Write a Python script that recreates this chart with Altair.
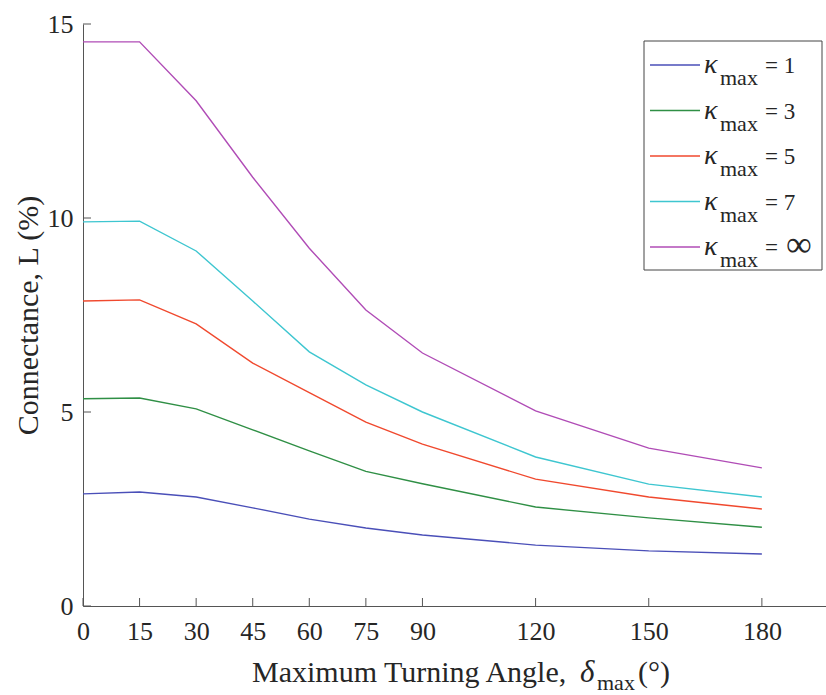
import altair as alt
import pandas as pd

# ---- data ----
angles = [0, 15, 30, 45, 60, 75, 90, 120, 150, 180]
k1 = [2.89, 2.94, 2.81, 2.53, 2.24, 2.01, 1.83, 1.57, 1.42, 1.34]
k3 = [5.34, 5.36, 5.08, 4.54, 4.00, 3.47, 3.15, 2.55, 2.27, 2.03]
k5 = [7.86, 7.89, 7.27, 6.26, 5.50, 4.74, 4.17, 3.27, 2.81, 2.50]
k7 = [9.90, 9.92, 9.15, 7.86, 6.55, 5.70, 5.00, 3.84, 3.14, 2.81]
kinf = [14.54, 14.54, 13.02, 11.05, 9.22, 7.63, 6.52, 5.03, 4.07, 3.56]

series = ["1", "3", "5", "7", "∞"]
colors = ["#4a4fb8", "#2f8f45", "#f0492e", "#3ec6d0", "#b04cb6"]
x_ticks = [0, 15, 30, 45, 60, 75, 90, 120, 150, 180]
y_ticks = [0, 5, 10, 15]

FONT = "Liberation Serif"
TXT = "#262626"
AX = "#555555"
W, H = 743, 582

rows = []
for s, vals in zip(series, [k1, k3, k5, k7, kinf]):
    for a, v in zip(angles, vals):
        rows.append({"angle": a, "L": v, "series": s})
df = pd.DataFrame(rows)

xscale = alt.Scale(domain=[0, 197], nice=False, zero=False)
yscale = alt.Scale(domain=[0, 15], nice=False)
cscale = alt.Scale(domain=series, range=colors)

lines = alt.Chart(df).mark_line(strokeWidth=1.4).encode(
    x=alt.X("angle:Q", scale=xscale,
            axis=alt.Axis(values=x_ticks, ticks=False, labelPadding=12, labelFontSize=26,
                          labelFont=FONT, labelColor=TXT, domainColor=AX, grid=False,
                          title=None, labelFlush=False)),
    y=alt.Y("L:Q", scale=yscale,
            axis=alt.Axis(values=y_ticks, ticks=False, labelPadding=10, labelFontSize=26,
                          labelFont=FONT, labelColor=TXT, domainColor=AX, grid=False,
                          title="Connectance, L (%)", titleFont=FONT, titleFontSize=30,
                          titleFontWeight="normal", titleColor=TXT, titlePadding=4,
                          labelFlush=False)),
    color=alt.Color("series:N", scale=cscale, legend=None),
    detail="series:N",
)

# inward ticks
xt = alt.Chart(pd.DataFrame({"t": x_ticks})).mark_rule(color=AX, strokeWidth=1).encode(
    x=alt.X("t:Q", scale=xscale), y=alt.value(H), y2=alt.value(H - 8))
yt = alt.Chart(pd.DataFrame({"t": y_ticks})).mark_rule(color=AX, strokeWidth=1).encode(
    y=alt.Y("t:Q", scale=yscale, axis=None), x=alt.value(0), x2=alt.value(8))

# x-axis title built from pieces (subscript)
one = pd.DataFrame({"a": [0]})
xt1 = alt.Chart(one).mark_text(text="Maximum Turning Angle,", font=FONT, fontSize=30,
                               color=TXT, align="left", baseline="alphabetic").encode(
    x=alt.value(169), y=alt.value(658))
xt2 = alt.Chart(one).mark_text(text="δ", font=FONT, fontSize=31, fontStyle="italic",
                               color=TXT, align="left", baseline="alphabetic").encode(
    x=alt.value(497), y=alt.value(658))
xt3 = alt.Chart(one).mark_text(text="max", font=FONT, fontSize=22,
                               color=TXT, align="left", baseline="alphabetic").encode(
    x=alt.value(514), y=alt.value(666))
xt4 = alt.Chart(one).mark_text(text="(°)", font=FONT, fontSize=30,
                               color=TXT, align="left", baseline="alphabetic").encode(
    x=alt.value(555), y=alt.value(658))

# legend
leg = pd.DataFrame({"series": series, "row": list(range(5)),
                    "eq": ["= 1", "= 3", "= 5", "= 7", "="]})
lscale = alt.Scale(domain=[0, 4], range=[41, 223])
ly = alt.Y("row:Q", scale=lscale, axis=None)

box = alt.Chart(one).mark_rect(fill="white", stroke="#444444", strokeWidth=1).encode(
    x=alt.value(561), x2=alt.value(739), y=alt.value(17), y2=alt.value(246))
lrule = alt.Chart(leg).mark_rule(strokeWidth=1.4).encode(
    x=alt.value(567), x2=alt.value(617), y=ly,
    color=alt.Color("series:N", scale=cscale, legend=None))
lk = alt.Chart(leg).mark_text(text="κ", font=FONT, fontSize=28, fontStyle="italic",
                              color=TXT, align="left", baseline="alphabetic", dy=8).encode(
    x=alt.value(621), y=ly)
lm = alt.Chart(leg).mark_text(text="max", font=FONT, fontSize=22, color=TXT,
                              align="left", baseline="alphabetic", dy=20).encode(
    x=alt.value(637), y=ly)
le = alt.Chart(leg).mark_text(font=FONT, fontSize=23, color=TXT,
                              align="left", baseline="alphabetic", dy=8).encode(
    x=alt.value(682), y=ly, text="eq:N")
linf = alt.Chart(leg[leg["series"] == "∞"]).mark_text(
    text="∞", font=FONT, fontSize=36, color=TXT, align="left",
    baseline="alphabetic", dy=9).encode(x=alt.value(703), y=ly)

chart = alt.layer(
    lines, xt, yt, xt1, xt2, xt3, xt4, box, lrule, lk, lm, le, linf
).resolve_scale(y="independent").properties(
    width=W, height=H,
    padding={"left": 83, "top": 24, "right": 0, "bottom": 89},
    autosize=alt.AutoSizeParams(type="none"),
    background="white",
).configure_view(stroke=None)

chart.save("out.html", embed_options={"renderer": "svg", "actions": False})
